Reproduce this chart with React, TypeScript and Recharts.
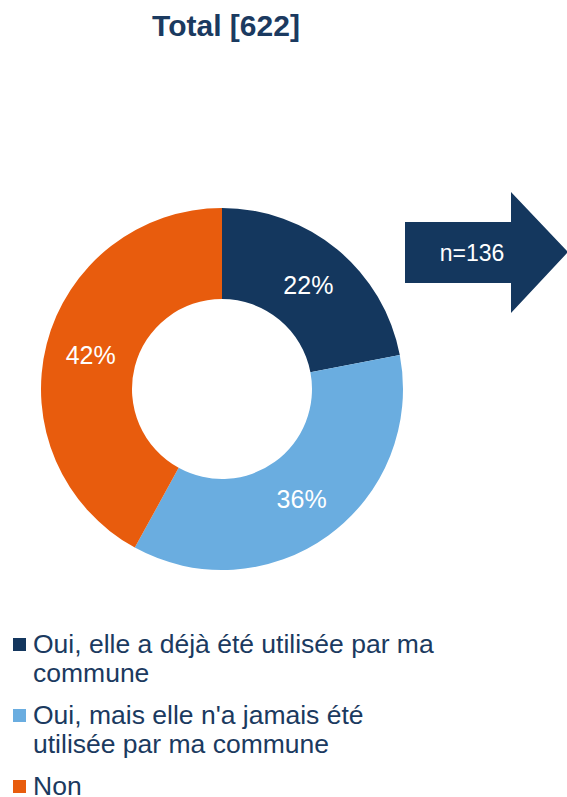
import React from "react";
import { PieChart, Pie, Cell, Legend } from "recharts";

// Répartition des réponses (Total [622])
const categories = [
  "Oui, elle a déjà été utilisée par ma commune",
  "Oui, mais elle n'a jamais été utilisée par ma commune",
  "Non",
];
const shares = [22, 36, 42];
const colors = ["#14375E", "#6AADE0", "#E85C0D"];
const title = "Total [622]";
const arrowLabel = "n=136";

const data = categories.map((name, i) => ({ name, value: shares[i] }));

const FONT = "'Liberation Sans', Arial, sans-serif";
const TEXT = "#1B3A60";

const RADIAN = Math.PI / 180;

function SliceLabel(props: any) {
  const { cx, cy, midAngle, innerRadius, outerRadius, value } = props;
  const r = (innerRadius + outerRadius) / 2;
  const x = cx + r * Math.cos(-midAngle * RADIAN);
  const y = cy + r * Math.sin(-midAngle * RADIAN);
  return (
    <text
      x={x}
      y={y}
      fill="#fff"
      fontSize={25}
      fontFamily={FONT}
      textAnchor="middle"
      dominantBaseline="central"
    >
      {value}%
    </text>
  );
}

function LegendList(props: any) {
  // keep the order of the categories, not the sorted payload
  const items = [...(props.payload || [])].sort(
    (a: any, b: any) => categories.indexOf(a.value) - categories.indexOf(b.value)
  );
  return (
    <div style={{ fontFamily: FONT, fontSize: 26.5, color: TEXT }}>
      {items.map((p: any, i: number) => (
        <div
          key={i}
          style={{ display: "flex", alignItems: "flex-start", marginBottom: 13, lineHeight: "29px" }}
        >
          <span
            style={{
              width: 13,
              height: 13,
              background: p.color,
              marginTop: 8,
              marginRight: 7,
              flex: "none",
            }}
          />
          <span style={{ width: 406 }}>{p.value}</span>
        </div>
      ))}
    </div>
  );
}

export default function App() {
  return (
    <div style={{ position: "absolute", left: 0, top: 0, width: 567, height: 797, background: "#fff", overflow: "hidden" }}>
      <div
        style={{
          position: "absolute",
          left: 0,
          top: 9,
          width: 452,
          textAlign: "center",
          fontFamily: FONT,
          fontWeight: "bold",
          fontSize: 30,
          color: TEXT,
        }}
      >
        {title}
      </div>
      <svg style={{ position: "absolute", left: 0, top: 0 }} width={567} height={797}>
        <polygon
          points="405,222 511,222 511,192 568,252 511,313 511,283 405,283"
          fill="#14375E"
        />
        <text x={472} y={253} fill="#fff" fontSize={23} fontFamily={FONT} textAnchor="middle" dominantBaseline="central">
          {arrowLabel}
        </text>
      </svg>
      <div style={{ position: "absolute", left: 0, top: 0 }}>
        <PieChart width={567} height={797} margin={{ top: 0, right: 0, bottom: 0, left: 0 }}>
          <Pie
            data={data}
            dataKey="value"
            nameKey="name"
            cx={222}
            cy={389}
            innerRadius={90}
            outerRadius={181}
            startAngle={90}
            endAngle={-270}
            stroke="none"
            label={SliceLabel}
            labelLine={false}
            isAnimationActive={false}
          >
            {data.map((_, i) => (
              <Cell key={i} fill={colors[i]} />
            ))}
          </Pie>
          <Legend
            content={LegendList}
            layout="horizontal"
            verticalAlign="bottom"
            align="left"
            wrapperStyle={{ position: "absolute", left: 13, top: 630, bottom: "auto", width: 450 }}
          />
        </PieChart>
      </div>
    </div>
  );
}
